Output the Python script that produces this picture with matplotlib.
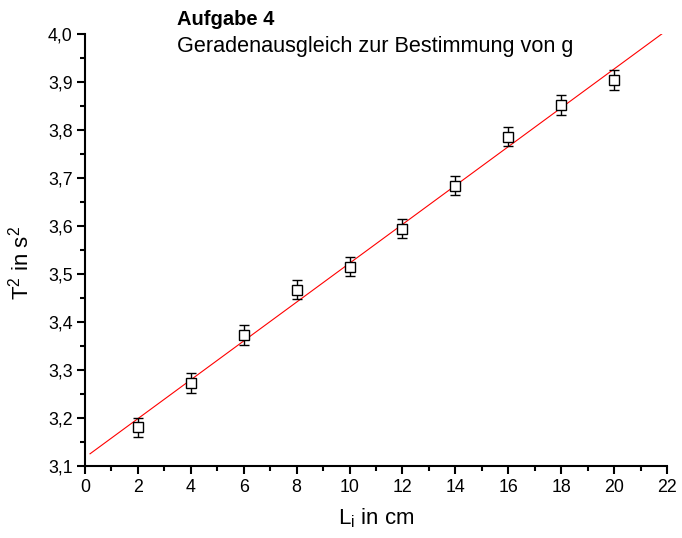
import numpy as np
import matplotlib
matplotlib.use("Agg")
import matplotlib.pyplot as plt
from matplotlib.ticker import MultipleLocator, FuncFormatter

plt.rcParams['font.family'] = ['Liberation Sans', 'DejaVu Sans']
plt.rcParams['mathtext.fontset'] = 'custom'
plt.rcParams['mathtext.rm'] = 'Liberation Sans'
plt.rcParams['mathtext.it'] = 'Liberation Sans'

L = [2, 4, 6, 8, 10, 12, 14, 16, 18, 20]
T2 = [3.181, 3.273, 3.373, 3.467, 3.515, 3.594, 3.684, 3.786, 3.852, 3.904]
T2_err = [0.02, 0.02, 0.02, 0.02, 0.02, 0.02, 0.02, 0.02, 0.02, 0.02]
fit_range = [0.19, 21.95]

fig = plt.figure(figsize=(6.82, 5.38), dpi=100)
ax = fig.add_axes([85/682, 72/538, 582/682, 432/538])

slope, intercept = np.polyfit(L, T2, 1)
xf = np.array(fit_range)
ax.plot(xf, slope*xf + intercept, color='red', lw=0.8, zorder=2)

ax.errorbar(L, T2, yerr=T2_err, fmt='s', mfc='white', mec='black', ms=6.8, mew=1.0,
            ecolor='black', elinewidth=1.0, capsize=3.3, capthick=1.0, zorder=3)

ax.set_xlim(0, 22)
ax.set_ylim(3.1, 4.0)
ax.xaxis.set_major_locator(MultipleLocator(2))
ax.xaxis.set_minor_locator(MultipleLocator(1))
ax.yaxis.set_major_locator(MultipleLocator(0.1))
ax.yaxis.set_minor_locator(MultipleLocator(0.05))
ax.yaxis.set_major_formatter(FuncFormatter(lambda v, p: f"{v:.1f}".replace('.', ',')))

for s in ['top', 'right']:
    ax.spines[s].set_visible(False)
for s in ['left', 'bottom']:
    ax.spines[s].set_linewidth(1.5)
ax.tick_params(which='major', direction='out', length=6, width=1.5, labelsize=12.8, pad=3)
ax.tick_params(which='minor', direction='out', length=3.5, width=1.5)

ax.set_xlabel(r'L$_\mathrm{i}$ in cm', fontsize=16, labelpad=8)
ax.set_ylabel(r'T$^\mathrm{2}$ in s$^\mathrm{2}$', fontsize=16)
ax.yaxis.set_label_coords(-0.088, 0.47)

fig.text(177/682, 1 - 25/538, 'Aufgabe 4', fontsize=14.5, fontweight='bold', ha='left', va='baseline')
fig.text(177/682, 1 - 52/538, 'Geradenausgleich zur Bestimmung von g', fontsize=15.6, ha='left', va='baseline')

fig.savefig('out.png', dpi=100)
